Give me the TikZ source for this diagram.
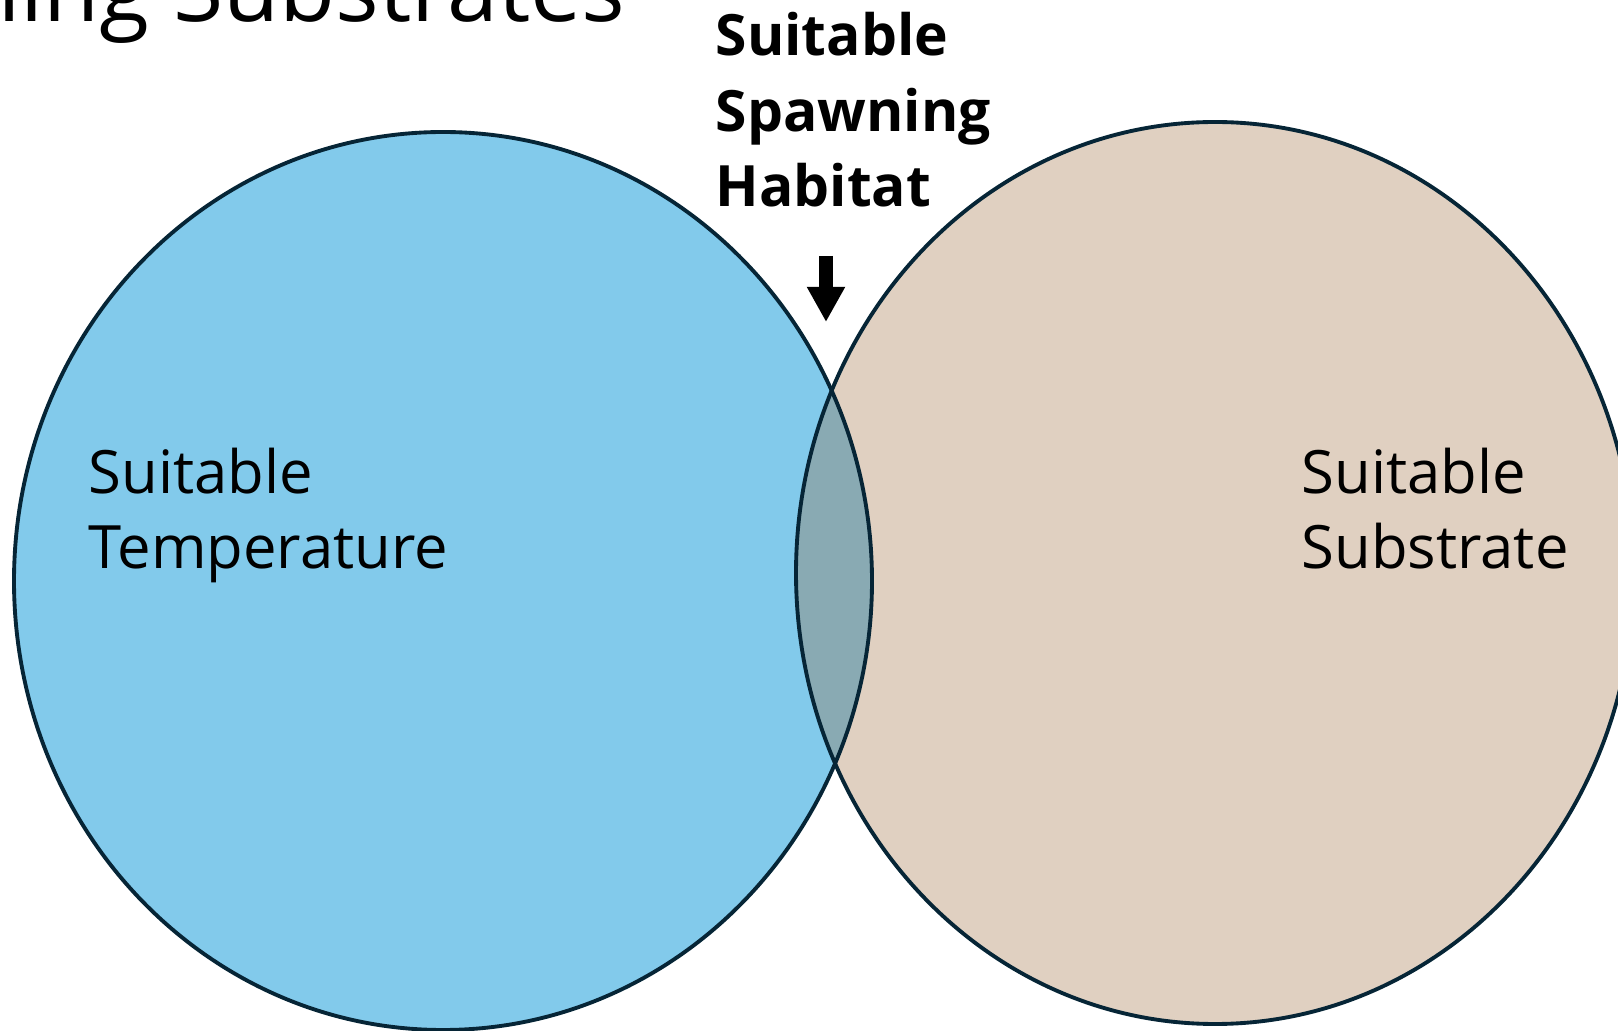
\documentclass[tikz,border=0pt]{standalone}
\usepackage{fontspec}
\setmainfont{Open Sans}
\usetikzlibrary{arrows.meta,positioning}
\definecolor{tempblue}{HTML}{82CAEB}
\definecolor{sandbeige}{HTML}{E0D0C1}
\definecolor{overlap}{HTML}{89AAB3}
\definecolor{rimnavy}{HTML}{062536}
\tikzset{
    zone/.style={
           draw=rimnavy,
           line width=1.1pt,
           },
    setlabel/.style={
           anchor=base west,
           align=left,
           inner sep=0pt,
           font=\fontsize{17}{21.6}\selectfont,
           },
    keylabel/.style={
           anchor=base west,
           align=left,
           inner sep=0pt,
           font=\bfseries\fontsize{16.2}{21.6}\selectfont,
           },
    pointer/.style={
           -{Triangle[width=10.2pt,length=10pt]},
           line width=4pt,
           },
}

\begin{document}
\begin{tikzpicture}[x=0.01cm,y=-0.01cm]
\useasboundingbox (0,0) rectangle (1618,1031);
\clip (0,0) rectangle (1618,1031);
\coordinate (tempc) at (443,581);
\coordinate (subc) at (1215,573);
% the two sets
\fill[tempblue] (tempc) ellipse [x radius=429, y radius=449];
\fill[sandbeige] (subc) ellipse [x radius=419, y radius=451];
\begin{scope}
\clip (tempc) ellipse [x radius=429, y radius=449];
\fill[overlap] (subc) ellipse [x radius=419, y radius=451];
\end{scope}
\draw[zone] (tempc) ellipse [x radius=429, y radius=449];
\draw[zone] (subc) ellipse [x radius=419, y radius=451];
% labels (base anchor sits on the last line)
\node[anchor=base east,inner sep=0pt,font=\fontsize{26}{30}\selectfont](title) at (626,22){ning Substrates};
\node[setlabel](temperature) at (88,569){Suitable\\Temperature};
\node[setlabel](substrate) at (1301,569){Suitable\\Substrate};
\node[keylabel](habitat) at (715,207){Suitable\\Spawning\\Habitat};
\coordinate (arrowtop) at (826,256);
\coordinate (arrowtip) at (826,322);
\draw[pointer] (arrowtop) -- (arrowtip);
\end{tikzpicture}
\end{document}
